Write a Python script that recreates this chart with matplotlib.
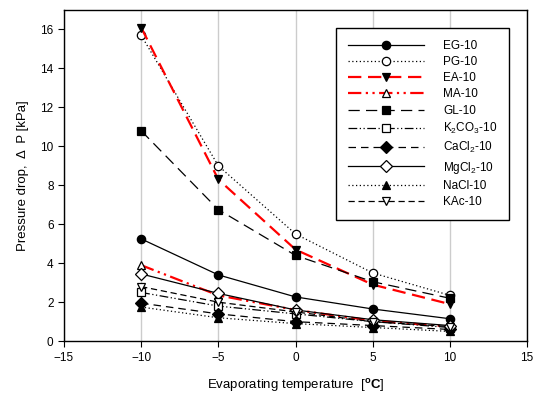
import matplotlib.pyplot as plt

plt.rcParams["font.family"] = ["Liberation Sans", "DejaVu Sans"]
plt.rcParams["mathtext.fontset"] = "custom"
plt.rcParams["mathtext.rm"] = "Liberation Sans"
plt.rcParams["mathtext.it"] = "Liberation Sans:italic"
plt.rcParams["mathtext.bf"] = "Liberation Sans:bold"

temps = [-10, -5, 0, 5, 10]

eg = [5.25, 3.4, 2.27, 1.65, 1.15]
pg = [15.7, 9.0, 5.5, 3.5, 2.35]
ea = [16.1, 8.3, 4.7, 2.9, 1.9]
ma = [3.9, 2.35, 1.6, 1.05, 0.75]
gl = [10.8, 6.75, 4.4, 3.05, 2.2]
k2co3 = [2.5, 1.8, 1.4, 1.0, 0.7]
cacl2 = [1.95, 1.4, 1.0, 0.8, 0.6]
mgcl2 = [3.45, 2.45, 1.6, 1.1, 0.8]
nacl = [1.75, 1.2, 0.9, 0.7, 0.5]
kac = [2.8, 2.0, 1.5, 1.0, 0.75]

labels = ["EG-10", "PG-10", "EA-10", "MA-10", "GL-10",
          "K$_2$CO$_3$-10", "CaCl$_2$-10", "MgCl$_2$-10", "NaCl-10", "KAc-10"]

series = [eg, pg, ea, ma, gl, k2co3, cacl2, mgcl2, nacl, kac]

styles = [
    dict(color="black", ls="-", marker="o", mfc="black"),
    dict(color="black", ls=(0, (1, 2)), marker="o", mfc="white"),
    dict(color="red", ls=(0, (6, 3)), marker="v", mfc="black", mec="black", lw=1.6),
    dict(color="red", ls=(0, (6, 2, 1, 2, 1, 2)), marker="^", mfc="white", mec="black", lw=1.6),
    dict(color="black", ls=(0, (9, 5)), marker="s", mfc="black"),
    dict(color="black", ls=(0, (7, 2, 1, 2, 1, 2)), marker="s", mfc="white"),
    dict(color="black", ls=(0, (6, 4)), marker="D", mfc="black"),
    dict(color="black", ls="-", marker="D", mfc="white"),
    dict(color="black", ls=(0, (1, 2)), marker="^", mfc="black"),
    dict(color="black", ls=(0, (5, 3)), marker="v", mfc="white"),
]

fig = plt.figure(figsize=(5.33, 3.99), dpi=100)
ax = fig.add_axes([0.120, 0.145, 0.869, 0.830])

for vals, lab, st in zip(series, labels, styles):
    st = dict(st)
    lw = st.pop("lw", 0.9)
    ax.plot(temps, vals, label=lab, lw=lw, ms=6, mec=st.pop("mec", "black"),
            mew=0.9, **st)

ax.set_xlim(-15, 15)
ax.set_ylim(0, 17)
ax.set_xticks([-15, -10, -5, 0, 5, 10, 15])
ax.set_yticks(range(0, 17, 2))
ax.grid(axis="x", color="#cccccc", lw=1)
ax.set_axisbelow(True)
ax.tick_params(direction="out", labelsize=8.5, length=4, width=0.8)
for sp in ax.spines.values():
    sp.set_linewidth(1)

ax.set_xlabel(r"Evaporating temperature  [$^{\mathbf{o}}\mathbf{C}$]", fontsize=9.5, labelpad=10)
ax.set_ylabel("Pressure drop,  \u0394  P [kPa]", fontsize=9.5, labelpad=8)

leg = ax.legend(loc="upper right", bbox_to_anchor=(0.961, 0.946), borderaxespad=0,
                fontsize=8.5, handlelength=6.5, numpoints=1, labelspacing=0.36,
                fancybox=False, edgecolor="black", framealpha=1,
                borderpad=1.0, handletextpad=1.6)
leg.get_frame().set_linewidth(1)

fig.savefig("out.png", dpi=100)
